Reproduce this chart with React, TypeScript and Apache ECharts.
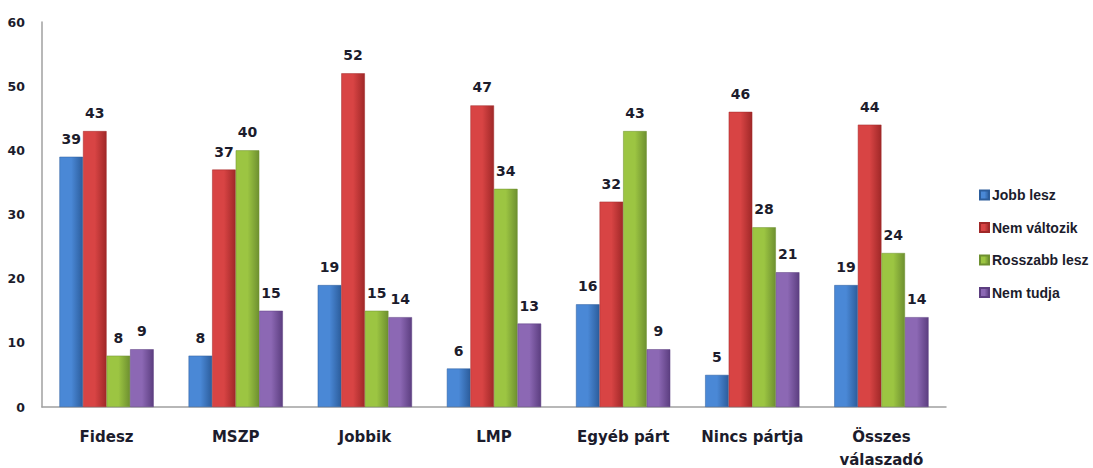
import React, { useEffect, useRef } from "react";
import * as echarts from "echarts";

const categories = ["Fidesz", "MSZP", "Jobbik", "LMP", "Egyéb párt", "Nincs pártja", "Összes\nválaszadó"];
const jobbLesz = [39, 8, 19, 6, 16, 5, 19];
const nemValtozik = [43, 37, 52, 47, 32, 46, 44];
const rosszabbLesz = [8, 40, 15, 34, 43, 28, 24];
const nemTudja = [9, 15, 14, 13, 9, 21, 14];
const yTicks = [0, 10, 20, 30, 40, 50, 60];

const grad = (a: string, b: string) =>
  new echarts.graphic.LinearGradient(0, 0, 1, 0, [
    { offset: 0, color: a },
    { offset: 0.5, color: a },
    { offset: 1, color: b },
  ]);

export default function App() {
  const ref = useRef<HTMLDivElement>(null);
  useEffect(() => {
    document.body.style.margin = "0";
    const chart = echarts.init(ref.current!, undefined, { renderer: "svg" });
    const txt = "#1c1c2c";
    const font = "'DejaVu Sans', sans-serif";
    const label = {
      show: true,
      position: "top" as const,
      distance: 11,
      color: txt,
      fontWeight: "bold" as const,
      fontSize: 14,
      fontFamily: font,
    };
    const mk = (name: string, data: number[], a: string, b: string, c: string) => ({
      name,
      type: "bar" as const,
      data,
      barGap: "0%",
      barCategoryGap: "27%",
      itemStyle: { color: grad(a, b), borderColor: c, borderWidth: 0.5 },
      label,
    });
    chart.setOption({
      animation: false,
      backgroundColor: "#ffffff",
      grid: { left: 42, right: 147, top: 22, bottom: 61, containLabel: false, outerBoundsMode: "none" },
      legend: {
        orient: "vertical",
        left: 974,
        top: 183,
        itemWidth: 9,
        itemHeight: 9,
        itemGap: 18.5,
        icon: "rect",
        textStyle: { color: txt, fontWeight: "bold", fontSize: 14, fontFamily: "'Liberation Sans', sans-serif", padding: [0, 0, 0, -2] },
        data: ["Jobb lesz", "Nem változik", "Rosszabb lesz", "Nem tudja"],
      },
      xAxis: {
        type: "category",
        data: categories,
        axisLine: { lineStyle: { color: "#a0a0a0", width: 1.5 } },
        axisTick: { show: false },
        axisLabel: {
          color: txt,
          fontWeight: "bold",
          fontSize: 15,
          fontFamily: font,
          margin: 18,
          lineHeight: 23,
          interval: 0,
        },
      },
      yAxis: {
        type: "value",
        min: 0,
        max: 60,
        interval: 10,
        axisLine: { show: true, lineStyle: { color: "#a0a0a0", width: 1.5 } },
        axisTick: { show: false },
        splitLine: { show: false },
        axisLabel: {
          color: txt,
          fontWeight: "bold",
          fontSize: 12.5,
          fontFamily: font,
          margin: 17,
          formatter: (v: number) => (yTicks.includes(v) ? String(v) : ""),
        },
      },
      series: [
        mk("Jobb lesz", jobbLesz, "#4a88d6", "#2c5d9c", "#2c5d9c"),
        mk("Nem változik", nemValtozik, "#d84444", "#a02828", "#a02828"),
        mk("Rosszabb lesz", rosszabbLesz, "#9cc542", "#6e9030", "#6e9030"),
        mk("Nem tudja", nemTudja, "#8c68b4", "#5c3e80", "#5c3e80"),
      ],
    });
    return () => chart.dispose();
  }, []);
  return <div ref={ref} style={{ width: 1093, height: 468 }} />;
}
